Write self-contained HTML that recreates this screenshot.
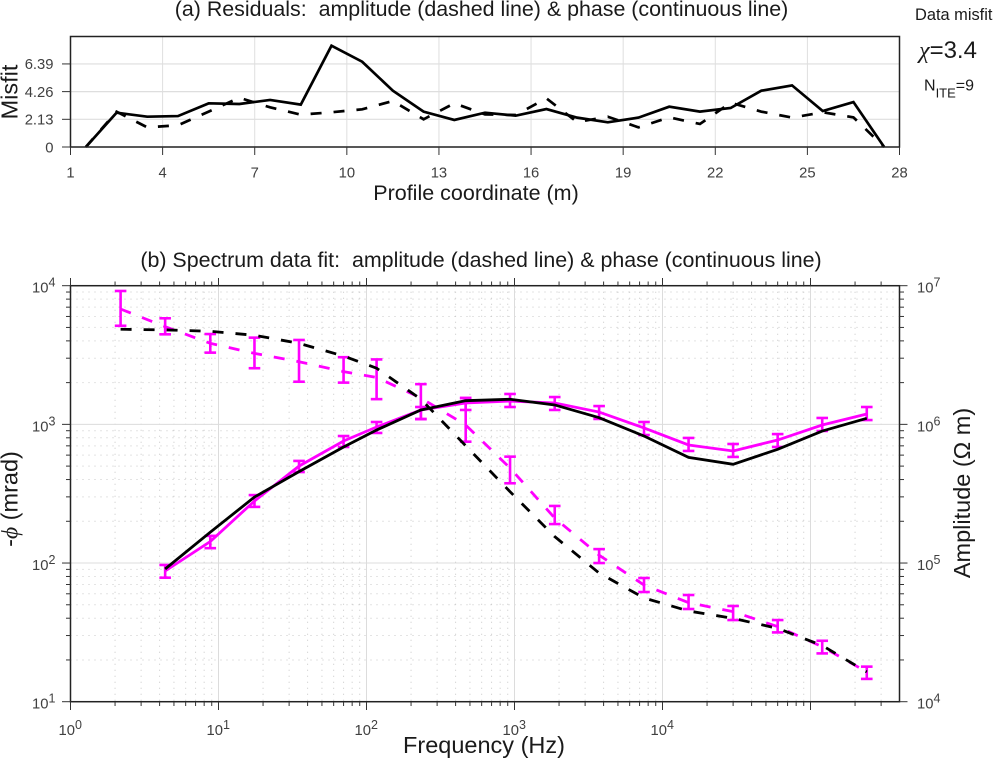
<!DOCTYPE html>
<html lang="en">
<head>
<meta charset="utf-8">
<title>Residuals and spectrum data fit</title>
<style>
html,body{margin:0;padding:0;background:#fff;}
svg{display:block;font-family:"Liberation Sans",sans-serif;}
.tick{font-size:14.8px;fill:#404040;}
.sup{font-size:12.5px;fill:#404040;}
.label{font-size:21.5px;fill:#1a1a1a;}
.label-lg{font-size:23.5px;fill:#1a1a1a;}
.title{font-size:21.4px;fill:#1a1a1a;white-space:pre;}
</style>
</head>
<body>
<svg id="fig" width="993" height="760" viewBox="0 0 993 760" xmlns="http://www.w3.org/2000/svg">
  <rect width="993" height="760" fill="#fff"/>
  <g id="topGrid"></g>
  <g id="botMinor"></g>
  <g id="botMajor"></g>
  <g id="topSeries"></g>
  <g id="botSeries"></g>
  <rect x="70.5" y="36.5" width="829" height="110.5" fill="none" stroke="#222" stroke-width="1.5"/>
  <rect x="70.5" y="285.7" width="829" height="416" fill="none" stroke="#222" stroke-width="1.5"/>
  <g id="ticks" stroke="#333" stroke-width="1"></g>
  <g id="labels"></g>

  <text class="title" x="481.5" y="16" text-anchor="middle" xml:space="preserve">(a) Residuals:  amplitude (dashed line) &amp; phase (continuous line)</text>
  <text class="title" x="481" y="267" text-anchor="middle" xml:space="preserve">(b) Spectrum data fit:  amplitude (dashed line) &amp; phase (continuous line)</text>
  <text class="label" x="476" y="200" text-anchor="middle">Profile coordinate (m)</text>
  <text class="label-lg" transform="translate(17.5,92) rotate(-90)" text-anchor="middle">Misfit</text>
  <text class="label-lg" x="484" y="753" text-anchor="middle">Frequency (Hz)</text>
  <text class="label-lg" transform="translate(17.5,499) rotate(-90)" text-anchor="middle">-<tspan font-family="'Liberation Serif',serif" font-style="italic">ϕ</tspan> (mrad)</text>
  <text class="label-lg" transform="translate(970,493) rotate(-90)" text-anchor="middle">Amplitude (Ω m)</text>

  <text x="915" y="20" font-size="16.4" fill="#1a1a1a">Data misfit</text>
  <text x="919" y="58" font-size="24" fill="#1a1a1a"><tspan font-family="'Liberation Serif',serif" font-style="italic">χ</tspan>=3.4</text>
  <text x="924" y="90.7" font-size="16" fill="#1a1a1a">N<tspan font-size="13" dy="7">ITE</tspan><tspan dy="-7">=9</tspan></text>
</svg>
<script>
// Panel (a): residuals
const profileCoords = [1.5,2.5,3.5,4.5,5.5,6.5,7.5,8.5,9.5,10.5,11.5,12.5,13.5,14.5,15.5,16.5,17.5,18.5,19.5,20.5,21.5,22.5,23.5,24.5,25.5,26.5,27.5];
const phaseMisfit = [0,2.64,2.33,2.38,3.36,3.31,3.62,3.26,7.79,6.56,4.33,2.72,2.08,2.64,2.41,2.92,2.26,1.90,2.26,3.10,2.72,3.00,4.33,4.74,2.77,3.46,0];
const amplitudeMisfit = [0,2.72,1.51,1.67,2.72,3.79,3.05,2.49,2.67,2.90,3.54,2.13,3.36,2.51,2.46,3.74,1.92,2.33,1.51,2.28,1.77,3.41,2.72,2.26,2.67,2.28,0];
const profileTicks = [1,4,7,10,13,16,19,22,25,28];
const misfitTicks = ["0","2.13","4.26","6.39"];

// Panel (b): spectrum
const frequencies = [2.18,4.36,8.8,17.5,35,70,117,233,468,933,1870,3730,7500,15000,30000,60000,120000,240000];
const phaseFreqs = frequencies.slice(1);
const phaseData = [87.6,143,280,500,759,957,1270,1426,1472,1426,1227,942,710,643,771,989,1188];
const phaseHigh = [96.8,157,309,545,824,1040,1334,1549,1656,1574,1355,1040,798,722,851,1112,1334];
const phaseLow = [78.4,128,254,453,687,867,1094,1270,1334,1270,1094,838,643,582,687,896,1074];
const phaseModel = [90.6,167,299,456,687,910,1270,1482,1517,1380,1117,824,578,515,661,895,1106];
const ampData = [6.79e6,5.06e6,3.84e6,3.25e6,2.83e6,2.40e6,2.18e6,1.55e6,9.89e5,4.84e5,2.11e5,1.14e5,6.94e4,5.18e4,4.46e4,3.48e4,2.49e4,1.64e4];
const ampHigh = [9.16e6,5.82e6,4.48e6,4.22e6,4.06e6,3.05e6,2.94e6,1.95e6,1.55e6,5.85e5,2.58e5,1.26e5,7.80e4,5.88e4,4.90e4,3.88e4,2.75e4,1.79e4];
const ampLow = [5.14e6,4.46e6,3.29e6,2.54e6,2.03e6,2.00e6,1.52e6,1.09e6,7.50e5,3.76e5,1.91e5,1.00e5,6.18e4,4.66e4,3.88e4,3.16e4,2.23e4,1.46e4];
const ampModel = [4.85e6,4.80e6,4.69e6,4.39e6,3.84e6,3.11e6,2.54e6,1.52e6,7.01e5,3.27e5,1.55e5,8.47e4,5.60e4,4.51e4,3.99e4,3.38e4,2.54e4,1.64e4];
const freqDecades = [0,1,2,3,4];
const phaseDecades = [1,2,3,4];
const ampDecades = [4,5,6,7];
const minorMults = [2,3,4,5,6,7,8,9];

const NS = "http://www.w3.org/2000/svg";
const L = 70.5, R = 899.5;
const xTop = v => L + (v - 1) * (R - L) / 27;
const yTop = v => 147 - v * 13;
const xLog = f => L + 148 * Math.log10(f);
const yPhase = v => 701.7 - 138.67 * (Math.log10(v) - 1);
const yAmp = v => 701.7 - 138.67 * (Math.log10(v) - 4);
const $ = id => document.getElementById(id);

function mk(tag, attrs, parent) {
  const e = document.createElementNS(NS, tag);
  for (const k in attrs) e.setAttribute(k, attrs[k]);
  parent.appendChild(e);
  return e;
}
function seg(parent, x1, y1, x2, y2, extra) {
  return mk("line", Object.assign({x1: x1, y1: y1, x2: x2, y2: y2}, extra || {}), parent);
}
function poly(parent, xs, ys, xf, yf, color, dashed, width) {
  const pts = xs.map((x, i) => xf(x).toFixed(2) + "," + yf(ys[i]).toFixed(2)).join(" ");
  const a = {points: pts, fill: "none", stroke: color, "stroke-width": width, "stroke-linejoin": "miter"};
  if (dashed) a["stroke-dasharray"] = "11 12";
  return mk("polyline", a, parent);
}
function tickText(x, y, txt, anchor) {
  return mk("text", {x: x, y: y, "text-anchor": anchor, class: "tick"}, $("labels"));
}
function powerLabel(x, y, exp, anchor) {
  const t = tickText(x, y, "", anchor);
  const a = mk("tspan", {}, t);
  a.textContent = "10";
  const b = mk("tspan", {dy: -6, class: "sup"}, t);
  b.textContent = String(exp);
  return t;
}

// ---- Panel (a) grid, ticks, labels
profileTicks.forEach(v => {
  const x = xTop(v);
  const g = seg($("topGrid"), x, 36.5, x, 147, {stroke: "#dedede", "stroke-width": 1});
  
  
  const t = seg($("ticks"), x, 147, x, 155);
  
  
  const l = tickText(x, 177.5, "", "middle");
  l.textContent = String(v);
  
  
});
misfitTicks.forEach(s => {
  const y = yTop(parseFloat(s));
  const g = seg($("topGrid"), L, y, R, y, {stroke: "#dedede", "stroke-width": 1.2});
  
  
  const t = seg($("ticks"), 62, y, L, y);
  
  
  const l = tickText(53.5, y + 5.3, "", "end");
  l.textContent = s;
  
  
});

// ---- Panel (a) series
const lineA = poly($("topSeries"), profileCoords, amplitudeMisfit, xTop, yTop, "#000", true, 2.7);


const lineP = poly($("topSeries"), profileCoords, phaseMisfit, xTop, yTop, "#000", false, 2.7);



// ---- Panel (b) grid and ticks
const dotStyle = {stroke: "#c8c8c8", "stroke-width": 1, "stroke-dasharray": "1 5"};
const majorStyle = {stroke: "#dcdcdc", "stroke-width": 1};
freqDecades.concat([5]).forEach(d => {
  minorMults.forEach(m => {
    const f = m * Math.pow(10, d);
    const x = xLog(f);
    if (x >= R - 1) return;
    const g = seg($("botMinor"), x, 285.7, x, 701.7, dotStyle);
    
    
    const t1 = seg($("ticks"), x, 701.7, x, 706);
    
    
    const t2 = seg($("ticks"), x, 285.7, x, 281.5);
    
    
  });
});
freqDecades.concat([5]).forEach(d => {
  const x = xLog(Math.pow(10, d));
  const g = seg($("botMajor"), x, 285.7, x, 701.7, majorStyle);
  
  
  const t1 = seg($("ticks"), x, 701.7, x, 710);
  
  
  const t2 = seg($("ticks"), x, 285.7, x, 278);
  
  
});
freqDecades.forEach(d => {
  const l = powerLabel(xLog(Math.pow(10, d)) - 12, 735, d, "start");
  
  
});
phaseDecades.slice(0, 3).forEach(d => {
  minorMults.forEach(m => {
    const v = m * Math.pow(10, d);
    const y = yPhase(v);
    const g = seg($("botMinor"), L, y, R, y, dotStyle);
    
    
    const t1 = seg($("ticks"), 66, y, L, y);
    
    
    const t2 = seg($("ticks"), R, y, 904, y);
    
    
  });
});
phaseDecades.forEach(d => {
  const y = yPhase(Math.pow(10, d));
  const g = seg($("botMajor"), L, y, R, y, majorStyle);
  
  
  const t = seg($("ticks"), 62, y, L, y);
  
  
  const l = powerLabel(32, y + 7, d, "start");
  
  
});
ampDecades.forEach(d => {
  const y = yAmp(Math.pow(10, d));
  const t = seg($("ticks"), R, y, 907.5, y);
  
  
  const l = powerLabel(917, y + 7, d, "start");
  
  
});

// ---- Panel (b) error bars and series
function errorBars(name, xs, lows, highs, yf) {
  xs.forEach((f, i) => {
    const x = xLog(f), y1 = yf(highs[i]), y2 = yf(lows[i]);
    const g = mk("g", {stroke: "#ff00ff", "stroke-width": 2.6, fill: "none"}, $("botSeries"));
    
    
    seg(g, x, y1, x, y2);
    seg(g, x - 5.8, y1, x + 5.8, y1);
    seg(g, x - 5.8, y2, x + 5.8, y2);
  });
}
errorBars("amplitude-error-bar", frequencies, ampLow, ampHigh, yAmp);
errorBars("phase-error-bar", phaseFreqs, phaseLow, phaseHigh, yPhase);

const ampObs = poly($("botSeries"), frequencies, ampData, xLog, yAmp, "#ff00ff", true, 2.8);


const phaseObs = poly($("botSeries"), phaseFreqs, phaseData, xLog, yPhase, "#ff00ff", false, 2.8);


const ampFit = poly($("botSeries"), frequencies, ampModel, xLog, yAmp, "#000", true, 2.8);


const phaseFit = poly($("botSeries"), phaseFreqs, phaseModel, xLog, yPhase, "#000", false, 2.8);


</script>
</body>
</html>
